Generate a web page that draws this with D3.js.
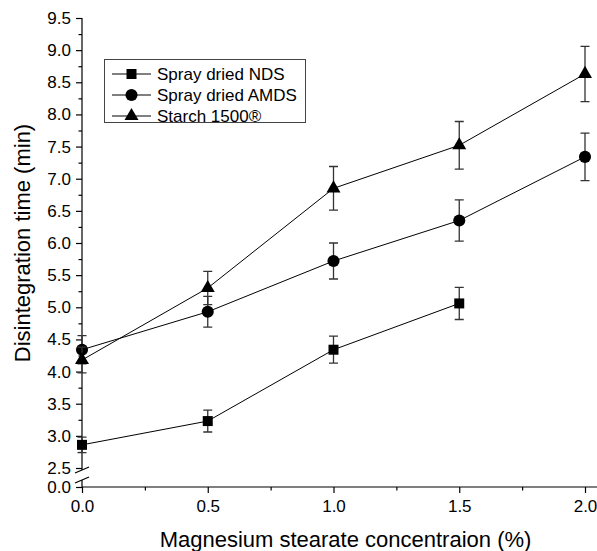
<!DOCTYPE html>
<html><head><meta charset="utf-8">
<script src="https://cdn.jsdelivr.net/npm/d3@7"></script>
<style>body{margin:0;background:#fff}svg{display:block}</style>
</head><body><svg id="c" width="597" height="551"></svg>
<script>
const concentrations = [0, 0.5, 1.0, 1.5, 2.0];
const seriesNames = ["Spray dried NDS", "Spray dried AMDS", "Starch 1500®"];
const ndsMean = [2.86, 3.23, 4.34, 5.06];
const ndsErr = [0.12, 0.17, 0.21, 0.25];
const amdsMean = [4.34, 4.93, 5.72, 6.35, 7.34];
const amdsErr = [0.22, 0.24, 0.28, 0.32, 0.37];
const starchMean = [4.18, 5.30, 6.85, 7.52, 8.63];
const starchErr = [0.20, 0.26, 0.34, 0.37, 0.43];
const xTicks = [0, 0.5, 1.0, 1.5, 2.0];
const xMinorTicks = [0.25, 0.75, 1.25, 1.75];
const yTicks = [0.0, 2.5, 3.0, 3.5, 4.0, 4.5, 5.0, 5.5, 6.0, 6.5, 7.0, 7.5, 8.0, 8.5, 9.0, 9.5];
const yMinorTicks = [2.75, 3.25, 3.75, 4.25, 4.75, 5.25, 5.75, 6.25, 6.75, 7.25, 7.75, 8.25, 8.75, 9.25];
const xTitle = "Magnesium stearate concentraion (%)";
const yTitle = "Disintegration time (min)";

const series = [
  {name: seriesNames[0], mean: ndsMean, err: ndsErr, symbol: d3.symbolSquare, size: 100},
  {name: seriesNames[1], mean: amdsMean, err: amdsErr, symbol: d3.symbolCircle, size: 115},
  {name: seriesNames[2], mean: starchMean, err: starchErr, symbol: d3.symbolTriangle, size: 85}
];

const svg = d3.select("#c");
const font = "Liberation Sans, Arial, Helvetica, sans-serif";
const x = d3.scaleLinear().domain([0, 2]).range([82, 585]);
const y = d3.scaleLinear().domain([0, 2.5, 9.5]).range([487, 468, 18]);
const x0 = x(0), yBase = y(0);

// X axis
const gx = svg.append("g").attr("transform", `translate(0,${yBase})`);
gx.call(d3.axisBottom(x).tickValues(xTicks).tickFormat(d3.format(".1f")).tickSize(6).tickPadding(7).tickSizeOuter(0));
gx.select(".domain").remove();
const gxm = svg.append("g").attr("transform", `translate(0,${yBase})`);
gxm.call(d3.axisBottom(x).tickValues(xMinorTicks).tickFormat("").tickSize(3.5).tickSizeOuter(0));
gxm.select(".domain").remove();
svg.append("line").attr("x1", x0).attr("x2", 597).attr("y1", yBase).attr("y2", yBase).attr("stroke", "#000").attr("stroke-width", 1.2);

// Y axis
const gy = svg.append("g").attr("transform", `translate(${x0},0)`);
gy.call(d3.axisLeft(y).tickValues(yTicks).tickFormat(d3.format(".1f")).tickSize(6).tickPadding(5).tickSizeOuter(0));
gy.select(".domain").remove();
const gym = svg.append("g").attr("transform", `translate(${x0},0)`);
gym.call(d3.axisLeft(y).tickValues(yMinorTicks).tickFormat("").tickSize(3.5).tickSizeOuter(0));
gym.select(".domain").remove();
const bTop = y(2.5) + 2, bBot = yBase - 7;
svg.append("line").attr("x1", x0).attr("x2", x0).attr("y1", y(9.5)).attr("y2", bTop).attr("stroke", "#000").attr("stroke-width", 1.2);
svg.append("line").attr("x1", x0).attr("x2", x0).attr("y1", bBot).attr("y2", yBase).attr("stroke", "#000").attr("stroke-width", 1.2);
[bTop, bBot].forEach(yy => {
  svg.append("line").attr("x1", x0 - 7).attr("x2", x0 + 7).attr("y1", yy + 3).attr("y2", yy - 3)
    .attr("stroke", "#000").attr("stroke-width", 1.3);
});

svg.selectAll(".tick text").attr("font-family", font).attr("font-size", 17).attr("fill", "#000");
svg.selectAll(".tick line").attr("stroke", "#000").attr("stroke-width", 1.2);

// Titles
svg.append("text").attr("x", (x(0) + x(2)) / 2 + 12).attr("y", 547).attr("text-anchor", "middle")
  .attr("font-family", font).attr("font-size", 22).text(xTitle);
svg.append("text").attr("transform", `translate(30,${(y(2.5) + y(9.5)) / 2}) rotate(-90)`).attr("text-anchor", "middle")
  .attr("font-family", font).attr("font-size", 22).text(yTitle);

// Series
const line = d3.line().x(d => x(d.c)).y(d => y(d.v));
series.forEach(s => {
  const pts = s.mean.map((v, i) => ({c: concentrations[i], v, e: s.err[i]}));
  const g = svg.append("g");
  g.selectAll(".eb").data(pts).join("path")
    .attr("d", d => {
      const cx = x(d.c), t = y(d.v + d.e), b = y(d.v - d.e);
      return `M${cx - 4.5},${t}H${cx + 4.5}M${cx},${t}V${b}M${cx - 4.5},${b}H${cx + 4.5}`;
    })
    .attr("fill", "none").attr("stroke", "#333").attr("stroke-width", 1.3);
  g.append("path").datum(pts).attr("d", line).attr("fill", "none").attr("stroke", "#000").attr("stroke-width", 1);
  g.selectAll(".m").data(pts).join("path")
    .attr("d", d3.symbol().type(s.symbol).size(s.size))
    .attr("transform", d => `translate(${x(d.c)},${y(d.v)})`)
    .attr("fill", "#000");
});

// Legend
const lg = svg.append("g");
lg.append("rect").attr("x", 104.5).attr("y", 59.5).attr("width", 201).attr("height", 63)
  .attr("fill", "#fff").attr("stroke", "#444").attr("stroke-width", 1);
series.forEach((s, i) => {
  const yy = 74 + i * 21;
  lg.append("line").attr("x1", 112).attr("x2", 151).attr("y1", yy).attr("y2", yy).attr("stroke", "#000").attr("stroke-width", 1);
  lg.append("path").attr("d", d3.symbol().type(s.symbol).size(s.size)).attr("transform", `translate(131.5,${yy})`).attr("fill", "#000");
  lg.append("text").attr("x", 157).attr("y", yy + 6).attr("font-family", font).attr("font-size", 17).text(s.name);
});
</script></body></html>
